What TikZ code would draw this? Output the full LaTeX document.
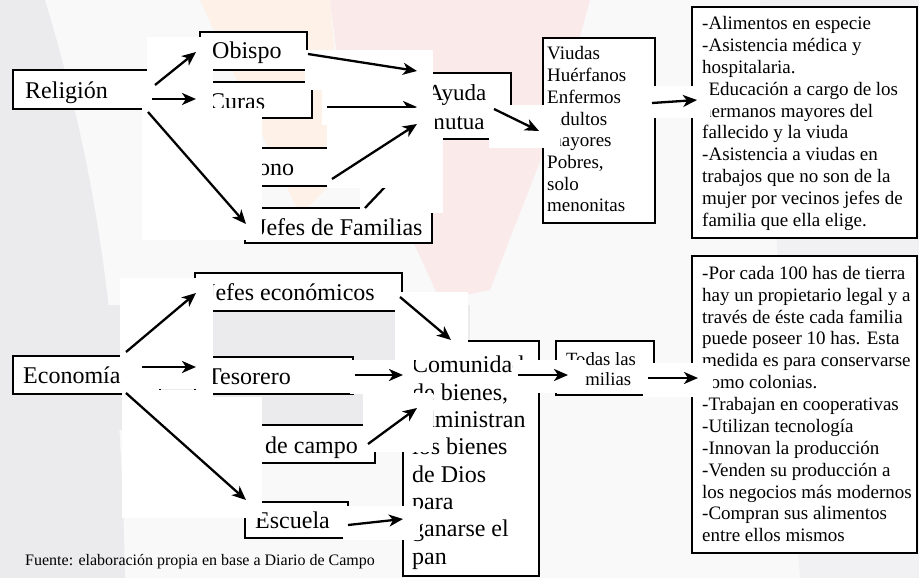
\documentclass[tikz,border=0pt]{standalone}
\usepackage{fontspec}
\setmainfont{Liberation Serif}
\usetikzlibrary{arrows.meta}
\definecolor{bgbase}{HTML}{F9F9FA}
\definecolor{wmgray}{HTML}{EBEBEE}
\definecolor{wmgrayb}{HTML}{F1F1F4}
\definecolor{wmorange}{HTML}{FDF1E8}
\definecolor{wmpink}{HTML}{FBEAEA}
\newcommand\mybig{\fontsize{24}{28}\selectfont}
\newcommand\mymid{\fontsize{23}{27}\selectfont}
\newcommand\mysmall{\fontsize{19}{22}\selectfont}
\newcommand\myvsmall{\fontsize{18.7}{21}\selectfont}
\newcommand\myfoot{\fontsize{16}{19}\selectfont}
\begin{document}
\begin{tikzpicture}[x=1pt,y=-1pt,
  boxline/.style={draw=black, line width=2.7pt, fill=white},
  patch/.style={fill=white, draw=none},
  arr/.style={line width=2.3pt, -{Stealth[length=14pt,width=12pt,inset=4pt]}},
  lbig/.style={font=\mybig, inner sep=0pt, anchor=base west},
  lmid/.style={font=\mymid, inner sep=0pt, anchor=base west},
  lsm/.style={font=\mysmall, inner sep=0pt, anchor=base west},
  lvsm/.style={font=\myvsmall, inner sep=0pt, anchor=base},
  lfoot/.style={font=\myfoot, inner sep=0pt, anchor=base west}]
\useasboundingbox (0,0) rectangle (919,578);
% ---------- background watermark ----------
\fill[bgbase] (0,0) rectangle (919,578);
\fill[wmgray] (0,0) -- (45,0) .. controls (90,150) and (120,300) .. (125,578) -- (0,578) -- cycle;
\fill[wmgray] (100,305) rectangle (470,430);
\fill[wmgrayb] (760,0) -- (919,0) -- (919,578) -- (800,578) -- cycle;
\fill[wmorange] (200,0) -- (330,0) -- (345,170) -- (300,215) -- (255,120) -- cycle;
\fill[wmpink] (330,0) -- (590,0) -- (560,110) -- (490,290) -- (440,300) -- (380,170) -- (345,120) -- cycle;
% ---------- boxes ----------
\draw[boxline] (13,70) rectangle (150,109);
\draw[boxline] (200,32) rectangle (307,70);
\draw[boxline] (200,82) rectangle (312,118);
\draw[boxline] (200,148) rectangle (400,186);
\draw[boxline] (245,208) rectangle (432,243);
\draw[boxline] (425,73) rectangle (511,139);
\draw[boxline] (543,38) rectangle (655,223);
\draw[boxline] (692,7) rectangle (917,238);
\draw[boxline] (13,356) rectangle (160,394);
\draw[boxline] (195,273) rectangle (402,311);
\draw[boxline] (195,357) rectangle (353,394);
\draw[boxline] (200,425) rectangle (375,463);
\draw[boxline] (245,502) rectangle (348,538);
\draw[boxline] (403,341) rectangle (539,576);
\draw[boxline] (556,341) rectangle (654,395);
\draw[boxline] (692,256) rectangle (917,553);
% ---------- texts ----------
\node[lbig] (religion) at (25,99) {Religión};
\node[lbig] (obispo) at (212,59) {Obispo};
\node[lbig] (curas) at (209,110) {Curas};
\node[lbig] (ono) at (258,175) {ono};
\node[lbig] (jfam) at (257,235.5) {Jefes de Familias};
\node[lmid] (ayuda) at (427,100.7) {Ayuda};
\node[lmid] (mutua) at (427,129) {mutua};
\foreach \t [count=\i from 0] in {{Viudas},{Huérfanos},{Enfermos},{Adultos},{mayores},{Pobres,},{solo},{menonitas}}
  \node[lsm] (vl\i) at (547,{60+21.7*\i}) {\t};
\foreach \t [count=\i from 0] in {{-Alimentos en especie},{-Asistencia médica y},{hospitalaria.},{-Educación a cargo de los},{hermanos mayores del},{fallecido y la viuda},{-Asistencia a viudas en},{trabajos que no son de la},{mujer por vecinos jefes de},{familia que ella elige.}}
  \node[lsm] (rl\i) at (702,{29.3+21.93*\i}) {\t};
\node[lbig] (economia) at (23,383) {Economía};
\node[lbig] (jecon) at (206,300) {Jefes económicos};
\node[lbig] (tesorero) at (207,384) {Tesorero};
\node[lbig] (campo) at (265,453) {de campo};
\node[lbig] (escuela) at (255,528) {Escuela};
\foreach \t [count=\i from 0] in {{Comunidad},{de bienes,},{administran},{los bienes},{de Dios},{para},{ganarse el},{pan}}
  \node[lbig] (cl\i) at (412,{372.9+27.3*\i}) {\t};
\node[lvsm] (todas) at (601,365) {Todas las};
\node[lvsm] (familias) at (601,385) {familias};
\foreach \t [count=\i from 0] in {{-Por cada 100 has de tierra},{hay un propietario legal y a},{través de éste cada familia},{puede poseer 10 has. Esta},{medida es para conservarse},{como colonias.},{-Trabajan en cooperativas},{-Utilizan tecnología},{-Innovan la producción},{-Venden su producción a},{los negocios más modernos},{-Compran sus alimentos},{entre ellos mismos}}
  \node[lsm] (el\i) at (702,{279.3+21.87*\i}) {\t};
\node[lfoot] (fuente) at (25,565) {Fuente: elaboración propia en base a Diario de Campo};
% ---------- arrow end points ----------
\coordinate (r1s) at (155,85);  \coordinate (r1e) at (196,52);
\coordinate (r2s) at (152,99);  \coordinate (r2e) at (196,99);
\coordinate (r3s) at (148,112); \coordinate (r3e) at (246,224);
\coordinate (r4s) at (308,54);  \coordinate (r4e) at (417,71);
\coordinate (r5s) at (327,107); \coordinate (r5e) at (417,107);
\coordinate (r6s) at (332,179); \coordinate (r6e) at (417,124);
\coordinate (r7s) at (365,208); \coordinate (r7e) at (420,150);
\coordinate (r8s) at (494,109); \coordinate (r8e) at (539,131);
\coordinate (r9s) at (652,103); \coordinate (r9e) at (697,100);
\coordinate (e1s) at (126,352); \coordinate (e1e) at (196,293);
\coordinate (e2s) at (142,367); \coordinate (e2e) at (196,367);
\coordinate (e3s) at (126,393); \coordinate (e3e) at (246,500);
\coordinate (e4s) at (400,297); \coordinate (e4e) at (451,340);
\coordinate (e5s) at (355,375); \coordinate (e5e) at (403,375);
\coordinate (e6s) at (368,444); \coordinate (e6e) at (417,408);
\coordinate (e7s) at (348,525); \coordinate (e7e) at (403,519);
\coordinate (e8s) at (518,375); \coordinate (e8e) at (568,375);
\coordinate (e9s) at (648,378); \coordinate (e9e) at (698,378);
% ---------- pasted arrow patches ----------
\fill[patch] (147,37) rectangle (213,87);   \draw[arr] (r1s) -- (r1e);
\fill[patch] (147,87) rectangle (213,108);  \draw[arr] (r2s) -- (r2e);
\fill[patch] (142,108) rectangle (262,240); \draw[arr] (r3s) -- (r3e);
\fill[patch] (305,50) rectangle (433,90);   \draw[arr] (r4s) -- (r4e);
\fill[patch] (322,90) rectangle (433,125);  \draw[arr] (r5s) -- (r5e);
\fill[patch] (360,130) rectangle (443,213); \draw[arr] (r7s) -- (r7e);
\fill[patch] (327,108) rectangle (435,188); \draw[arr] (r6s) -- (r6e);
\fill[patch] (489,105) rectangle (560,148); \draw[arr] (r8s) -- (r8e);
\fill[patch] (646,86) rectangle (710,118);  \draw[arr] (r9s) -- (r9e);
\fill[patch] (120,278) rectangle (213,359); \draw[arr] (e1s) -- (e1e);
\fill[patch] (137,353) rectangle (213,389); \draw[arr] (e2s) -- (e2e);
\fill[patch] (122,390) rectangle (213,518);
\fill[patch] (213,397) rectangle (262,518); \draw[arr] (e3s) -- (e3e);
\fill[patch] (395,292) rectangle (468,360); \draw[arr] (e4s) -- (e4e);
\fill[patch] (350,360) rectangle (414,394); \draw[arr] (e5s) -- (e5e);
\fill[patch] (363,393) rectangle (433,452); \draw[arr] (e6s) -- (e6e);
\fill[patch] (343,506) rectangle (420,540); \draw[arr] (e7s) -- (e7e);
\fill[patch] (513,360) rectangle (585,393); \draw[arr] (e8s) -- (e8e);
\fill[patch] (643,363) rectangle (713,397); \draw[arr] (e9s) -- (e9e);
\end{tikzpicture}
\end{document}
